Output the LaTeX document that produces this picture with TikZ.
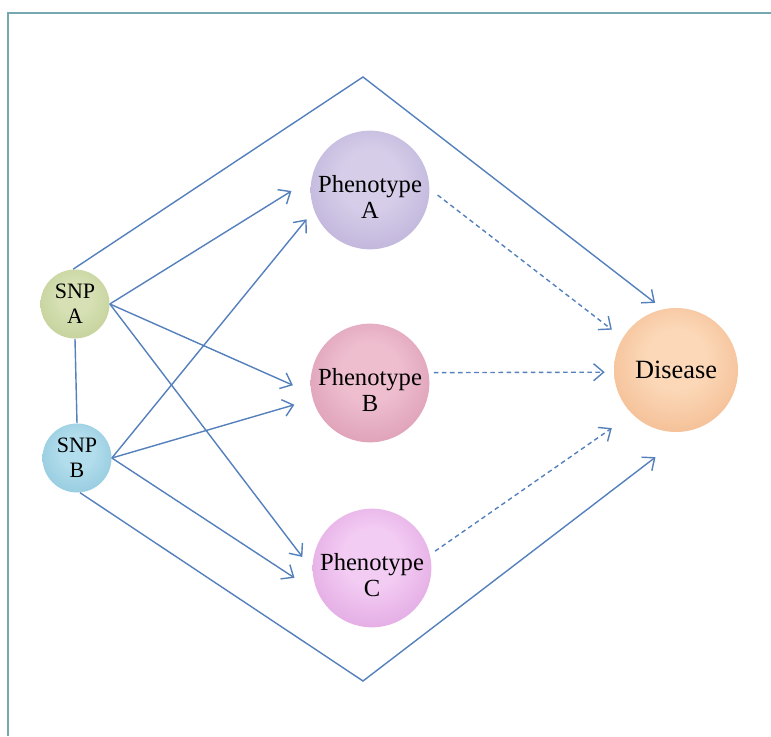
\documentclass[tikz,border=0pt]{standalone}
\usepackage{fontspec}
\setmainfont{Liberation Serif}
\usetikzlibrary{arrows.meta}
\definecolor{linkblue}{RGB}{84,128,188}
\definecolor{framecol}{RGB}{118,168,178}
\colorlet{orbin}{white}
\colorlet{orbout}{gray}
\pgfdeclareradialshading[orbin,orbout]{orb}{\pgfpoint{0bp}{6bp}}{color(0bp)=(orbin); color(12bp)=(orbin); color(50bp)=(orbout)}
\begin{document}
\begin{tikzpicture}[snp/.style={circle,minimum size=1.38cm,inner sep=0pt,align=center,font=\fontsize{12.5}{14}\selectfont},
  pheno/.style={circle,minimum size=2.32cm,inner sep=0pt,align=center,text height=33pt,text depth=-7pt,font=\fontsize{14}{15}\selectfont},
  orb/.style 2 args={/utils/exec={\colorlet{orbin}{#1}\colorlet{orbout}{#2}},shading=orb},
  link/.style={draw=linkblue,line width=0.8pt,-{Straight Barb[length=2mm,width=3.4mm]},shorten >=#1},link/.default=0.4cm,
  hint/.style={link=#1,dash pattern=on 2.6pt off 2pt}]
    \useasboundingbox (0,0) rectangle (15.42,14.72);
    \draw[framecol,line width=1.1pt](0.16,0) -- (0.16,14.46) -- (15.42,14.46);
    \node[snp,orb={rgb,255:red,214;green,224;blue,180}{rgb,255:red,176;green,194;blue,126}](snpA) at (1.5,8.64){SNP\\A};
    \node[snp,orb={rgb,255:red,178;green,221;blue,236}{rgb,255:red,116;green,183;blue,208}](snpB) at (1.54,5.56){SNP\\B};
    \node[pheno,orb={rgb,255:red,214;green,206;blue,233}{rgb,255:red,168;green,153;blue,204}](phA) at (7.4,10.92){Phenotype\\A};
    \node[pheno,orb={rgb,255:red,238;green,190;blue,207}{rgb,255:red,204;green,126;blue,156}](phB) at (7.4,7.06){Phenotype\\B};
    \node[pheno,orb={rgb,255:red,243;green,204;blue,243}{rgb,255:red,208;green,133;blue,210}](phC) at (7.44,3.36){Phenotype\\C};
    \node[circle,minimum size=2.48cm,inner sep=0pt,font=\fontsize{15}{17}\selectfont,orb={rgb,255:red,252;green,216;blue,184}{rgb,255:red,234;green,162;blue,110}](dis) at (13.52,7.32){Disease};
    \coordinate(top) at (7.26,13.18);
    \coordinate(bot) at (7.26,1.1);
    \draw[linkblue,line width=0.8pt](snpA.south) -- (snpB.north);
    \draw[link=0.47cm](snpA.east) -- (phA.169);
    \draw[link=0.4cm](snpA.east) -- (phB.190);
    \draw[link=0.33cm](snpA.east) -- (phC.182);
    \draw[link=0.23cm](snpB.east) -- (phA.200);
    \draw[link=0.38cm](snpB.east) -- (phB.196);
    \draw[link=0.56cm](snpB.east) -- (phC.205);
    \draw[link=0.2cm](snpA.93) -- (top) -- (dis.102);
    \draw[link=0.87cm](snpB.275) -- (bot) -- (dis.283);
    \draw[hint=0.27cm,shorten <=0.2cm](phA.1) -- (dis.149);
    \draw[hint=0.18cm,shorten <=0.1cm](phB.10) -- (dis.182);
    \draw[hint=0.49cm,shorten <=0.12cm](phC.13) -- (dis.225);
\end{tikzpicture}
\end{document}
